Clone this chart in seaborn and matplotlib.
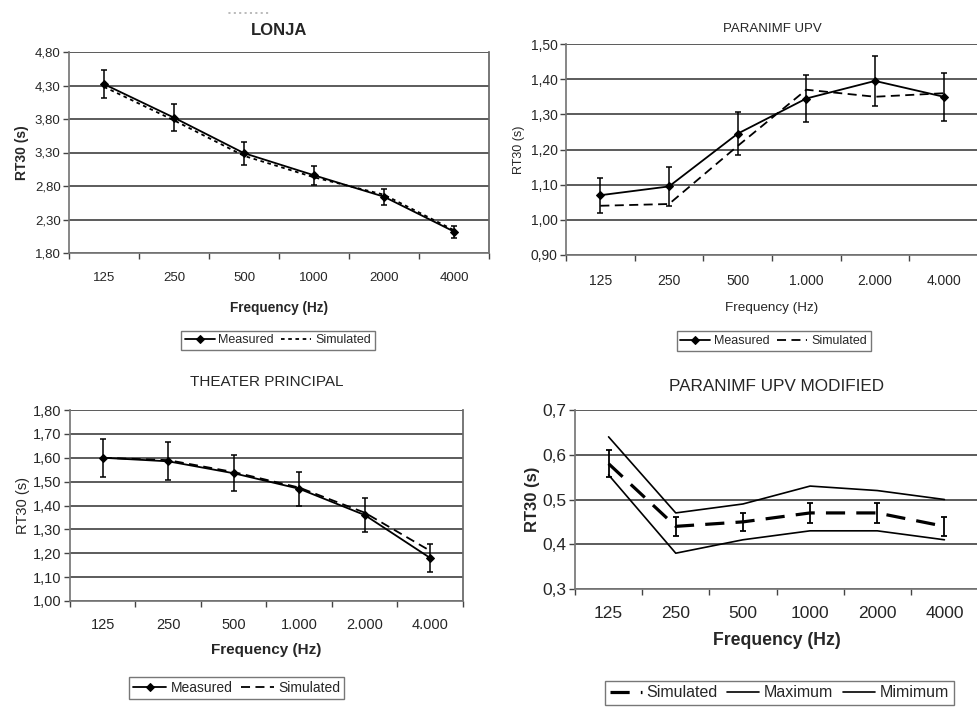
import numpy as np
import matplotlib
matplotlib.use("Agg")
import matplotlib.pyplot as plt
from matplotlib.ticker import FixedLocator, NullFormatter
import seaborn as sns

# ── Datos ───────────────────────────────────────────────
frecuencias_a = ["125", "250", "500", "1000", "2000", "4000"]
frecuencias_b = ["125", "250", "500", "1.000", "2.000", "4.000"]

lonja_medido   = [4.32, 3.82, 3.29, 2.96, 2.64, 2.12]
lonja_err      = [0.21, 0.20, 0.17, 0.14, 0.12, 0.09]
lonja_simulado = [4.28, 3.78, 3.25, 2.93, 2.67, 2.14]

paranimf_medido   = [1.07, 1.095, 1.245, 1.345, 1.395, 1.35]
paranimf_err      = [0.05, 0.055, 0.062, 0.067, 0.07, 0.068]
paranimf_simulado = [1.04, 1.045, 1.21, 1.37, 1.35, 1.36]

teatro_medido   = [1.60, 1.585, 1.535, 1.47, 1.36, 1.18]
teatro_err      = [0.08, 0.08, 0.075, 0.072, 0.07, 0.06]
teatro_simulado = [1.60, 1.59, 1.54, 1.475, 1.37, 1.21]

modif_simulado = [0.58, 0.44, 0.45, 0.47, 0.47, 0.44]
modif_err      = [0.03, 0.022, 0.02, 0.023, 0.023, 0.022]
modif_maximo   = [0.64, 0.47, 0.49, 0.53, 0.52, 0.50]
modif_minimo   = [0.555, 0.38, 0.41, 0.43, 0.43, 0.41]

yticks_lonja    = [1.80, 2.30, 2.80, 3.30, 3.80, 4.30, 4.80]
yticks_paranimf = [0.90, 1.00, 1.10, 1.20, 1.30, 1.40, 1.50]
yticks_teatro   = [1.00, 1.10, 1.20, 1.30, 1.40, 1.50, 1.60, 1.70, 1.80]
yticks_modif    = [0.3, 0.4, 0.5, 0.6, 0.7]

# ── Estilo ──────────────────────────────────────────────
sns.set_theme(style="white")
plt.rcParams["font.family"] = ["Liberation Sans", "DejaVu Sans"]
plt.rcParams["axes.edgecolor"] = "#666666"

fig = plt.figure(figsize=(9.78, 7.09), dpi=100)
W, H = 978, 709

def caja(izq, der, arriba, abajo):
    return [izq / W, 1 - abajo / H, (der - izq) / W, (abajo - arriba) / H]

def preparar_eje(ax, etiquetas, yticks, decimales, fs_tick, borde_der, pad_x=12):
    n = len(etiquetas)
    ax.set_xlim(-0.5, n - 0.5)
    ax.set_ylim(yticks[0], yticks[-1])
    ax.set_xticks(range(n))
    ax.set_xticklabels(etiquetas, fontsize=fs_tick)
    ax.tick_params(axis="x", which="major", length=0, pad=pad_x)
    ax.xaxis.set_minor_locator(FixedLocator(np.arange(-0.5, n, 1.0)))
    ax.xaxis.set_minor_formatter(NullFormatter())
    ax.tick_params(axis="x", which="minor", length=4, width=1, color="#444444",
                   direction="out", bottom=True)
    ax.set_yticks(yticks)
    ax.set_yticklabels([f"{v:.{decimales}f}".replace(".", ",") for v in yticks],
                       fontsize=fs_tick)
    ax.tick_params(axis="y", length=4, width=1, color="#444444", direction="out",
                   left=True, pad=2)
    for v in yticks:
        ax.axhline(v, color="#404040", lw=1.2, zorder=0)
    ax.spines["top"].set_visible(False)
    ax.spines["right"].set_visible(borde_der)
    ax.spines["left"].set_color("#777777")
    ax.spines["bottom"].set_color("#777777")
    ax.set_facecolor("white")

def leyenda(ax, x, y, fs, hl=2.4):
    leg = ax.legend(loc="center", bbox_to_anchor=(x, y), bbox_transform=fig.transFigure,
                    ncol=3, fontsize=fs, frameon=True, fancybox=False,
                    handlelength=hl, handletextpad=0.3, columnspacing=0.6,
                    borderpad=0.3, borderaxespad=0)
    leg.get_frame().set_edgecolor("#555555")
    leg.get_frame().set_linewidth(1.0)

def panel_medido(ax, etiquetas, medido, err, simulado, dashes):
    x = np.arange(len(etiquetas))
    sns.lineplot(x=x, y=medido, color="black", marker="D", markersize=4,
                 markeredgecolor="black", lw=1.3, label="Measured", ax=ax, zorder=3)
    sns.lineplot(x=x, y=simulado, color="black", dashes=dashes, lw=1.3,
                 label="Simulated", ax=ax, zorder=3)
    ax.errorbar(x, medido, yerr=err, fmt="none", ecolor="black", elinewidth=1.1,
                capsize=2.5, capthick=1.1, zorder=4)

# ── LONJA ───────────────────────────────────────────────
ax1 = fig.add_axes(caja(69, 489, 52, 253))
panel_medido(ax1, frecuencias_a, lonja_medido, lonja_err, lonja_simulado, (2, 2))
preparar_eje(ax1, frecuencias_a, yticks_lonja, 2, 9.5, True, pad_x=14)
ax1.set_title("LONJA", fontsize=12, fontweight="bold", pad=12)
ax1.set_xlabel("Frequency (Hz)", fontsize=9.8, fontweight="bold", labelpad=12)
ax1.set_ylabel("RT30 (s)", fontsize=10, fontweight="bold", labelpad=4)
fig.text(248 / W, 1 - 15 / H, "▪ ▪ ▪ ▪ ▪ ▪ ▪ ▪", fontsize=6, color="#bbbbbb", ha="center")
leyenda(ax1, 0.284, 0.520, 9)

# ── PARANIMF UPV ────────────────────────────────────────
ax2 = fig.add_axes(caja(566, 978, 44, 255))
panel_medido(ax2, frecuencias_b, paranimf_medido, paranimf_err, paranimf_simulado, (5, 3))
preparar_eje(ax2, frecuencias_b, yticks_paranimf, 2, 10, False, pad_x=14)
ax2.set_title("PARANIMF UPV", fontsize=9.5, pad=9)
ax2.set_xlabel("Frequency (Hz)", fontsize=9.7, labelpad=10)
ax2.set_ylabel("RT30 (s)", fontsize=9, labelpad=4)
leyenda(ax2, 0.791, 0.519, 9)

# ── THEATER PRINCIPAL ───────────────────────────────────
ax3 = fig.add_axes(caja(70, 463, 410, 601))
panel_medido(ax3, frecuencias_b, teatro_medido, teatro_err, teatro_simulado, (5, 3))
preparar_eje(ax3, frecuencias_b, yticks_teatro, 2, 10.5, True, pad_x=12)
ax3.set_title("THEATER PRINCIPAL", fontsize=11, pad=17)
ax3.set_xlabel("Frequency (Hz)", fontsize=11, fontweight="bold", labelpad=8)
ax3.set_ylabel("RT30 (s)", fontsize=10.5, labelpad=2)
leyenda(ax3, 0.242, 0.0296, 10)

# ── PARANIMF UPV MODIFIED ───────────────────────────────
ax4 = fig.add_axes(caja(575, 978, 410, 589))
x = np.arange(len(frecuencias_a))
sns.lineplot(x=x, y=modif_simulado, color="black", dashes=(6, 3.5), lw=2.3,
             label="Simulated", ax=ax4, zorder=3)
sns.lineplot(x=x, y=modif_maximo, color="black", lw=1.2, label="Maximum", ax=ax4, zorder=3)
sns.lineplot(x=x, y=modif_minimo, color="black", lw=1.2, label="Mimimum", ax=ax4, zorder=3)
ax4.errorbar(x, modif_simulado, yerr=modif_err, fmt="none", ecolor="black",
             elinewidth=1.3, capsize=2.5, capthick=1.3, zorder=4)
preparar_eje(ax4, frecuencias_a, yticks_modif, 1, 12.5, False, pad_x=12)
ax4.set_title("PARANIMF UPV MODIFIED", fontsize=12.3, pad=14)
ax4.set_xlabel("Frequency (Hz)", fontsize=12.7, fontweight="bold", labelpad=8)
ax4.set_ylabel("RT30 (s)", fontsize=12, fontweight="bold", labelpad=2)
leyenda(ax4, 0.797, 0.0226, 11.5, hl=2.0)

fig.savefig("out.png", dpi=100)
